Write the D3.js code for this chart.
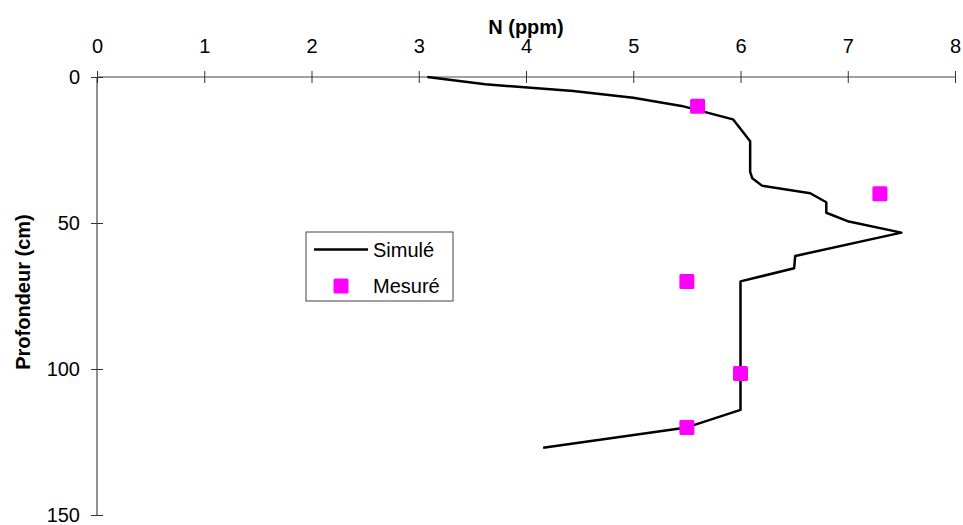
<!DOCTYPE html>
<html>
<head>
<meta charset="utf-8">
<script src="https://d3js.org/d3.v7.min.js"></script>
<style>
  body { margin: 0; background: #fff; }
  text { font-family: Arial, "Liberation Sans", sans-serif; }
</style>
</head>
<body>
<script>
// simulated profile: N (ppm) vs depth (cm)
var simN     = [3.08, 3.62, 4.44, 5.00, 5.45, 5.93, 6.09, 6.09, 6.11, 6.20, 6.65, 6.80, 6.80, 7.01, 7.50, 6.51, 6.50, 6.00, 6.00, 5.50, 4.16];
var simDepth = [0,    2.5,  4.8,  7.1,  9.9,  14.5, 22,   32.5, 34.7, 37.2, 39.8, 42.9, 46.5, 49.5, 53.3, 61.3, 65.5, 70,   114,  120,  127];

// measured points
var mesN     = [5.6, 7.3, 5.5, 6.0, 5.5];
var mesDepth = [10,  40,  70,  101.5, 120];

var xTicks = [0, 1, 2, 3, 4, 5, 6, 7, 8];
var yTicks = [0, 50, 100, 150];

var width = 963, height = 525;

var x = d3.scaleLinear().domain([0, 8]).range([97, 955]);
var y = d3.scaleLinear().domain([0, 150]).range([77, 515]);

var svg = d3.select("body").append("svg")
    .attr("width", width)
    .attr("height", height);

// x axis on top
var xAxis = svg.append("g")
    .attr("transform", "translate(0,77)")
    .call(d3.axisTop(x).tickValues(xTicks).tickSize(6).tickSizeOuter(0).tickFormat(d3.format("d")));
xAxis.select(".domain").attr("stroke", "#444").attr("d", "M" + x(0) + ",0H" + x(8));
xAxis.selectAll(".tick line").attr("y1", -6).attr("y2", 6).attr("stroke", "#333");
xAxis.selectAll(".tick text")
    .attr("y", -24).attr("dy", 0)
    .attr("font-size", 20).attr("fill", "#000")
    .style("font-family", "Arial, 'Liberation Sans', sans-serif");

// y axis
var yAxis = svg.append("g")
    .attr("transform", "translate(97,0)")
    .call(d3.axisLeft(y).tickValues(yTicks).tickSize(6).tickSizeOuter(0).tickPadding(11));
yAxis.select(".domain").attr("stroke", "#222").attr("d", "M0," + y(0) + "V" + y(150));
yAxis.selectAll(".tick line").attr("x1", -6).attr("x2", 6).attr("stroke", "#333");
yAxis.selectAll(".tick text")
    .attr("font-size", 20).attr("fill", "#000")
    .style("font-family", "Arial, 'Liberation Sans', sans-serif");

// axis titles
svg.append("text")
    .attr("x", (x(0) + x(8)) / 2)
    .attr("y", 34)
    .attr("text-anchor", "middle")
    .attr("font-size", 20)
    .attr("font-weight", "bold")
    .text("N (ppm)");

svg.append("text")
    .attr("transform", "translate(30," + 292 + ") rotate(-90)")
    .attr("text-anchor", "middle")
    .attr("font-size", 20)
    .attr("font-weight", "bold")
    .text("Profondeur (cm)");

// simulated line
var line = d3.line()
    .x(function(d) { return x(d[0]); })
    .y(function(d) { return y(d[1]); });

svg.append("path")
    .datum(d3.zip(simN, simDepth))
    .attr("d", line)
    .attr("fill", "none")
    .attr("stroke", "#000")
    .attr("stroke-width", 2.5)
    .attr("stroke-linejoin", "round");

// measured markers
var ms = 15;
svg.selectAll(".mes")
    .data(d3.zip(mesN, mesDepth))
    .enter().append("rect")
    .attr("class", "mes")
    .attr("x", function(d) { return x(d[0]) - ms / 2; })
    .attr("y", function(d) { return y(d[1]) - ms / 2; })
    .attr("width", ms)
    .attr("height", ms)
    .attr("rx", 1.5)
    .attr("fill", "#ff00ff");

// legend
var leg = svg.append("g").attr("transform", "translate(306,232)");
leg.append("rect")
    .attr("width", 147).attr("height", 69)
    .attr("fill", "#fff").attr("stroke", "#444").attr("stroke-width", 1);
leg.append("line")
    .attr("x1", 8).attr("x2", 62).attr("y1", 17.5).attr("y2", 17.5)
    .attr("stroke", "#000").attr("stroke-width", 2.5);
leg.append("text").attr("x", 67).attr("y", 25).attr("font-size", 20).text("Simulé");
leg.append("rect")
    .attr("x", 35 - ms / 2).attr("y", 54 - ms / 2)
    .attr("width", ms).attr("height", ms).attr("rx", 1.5)
    .attr("fill", "#ff00ff");
leg.append("text").attr("x", 67).attr("y", 61).attr("font-size", 20).text("Mesuré");
</script>
</body>
</html>
